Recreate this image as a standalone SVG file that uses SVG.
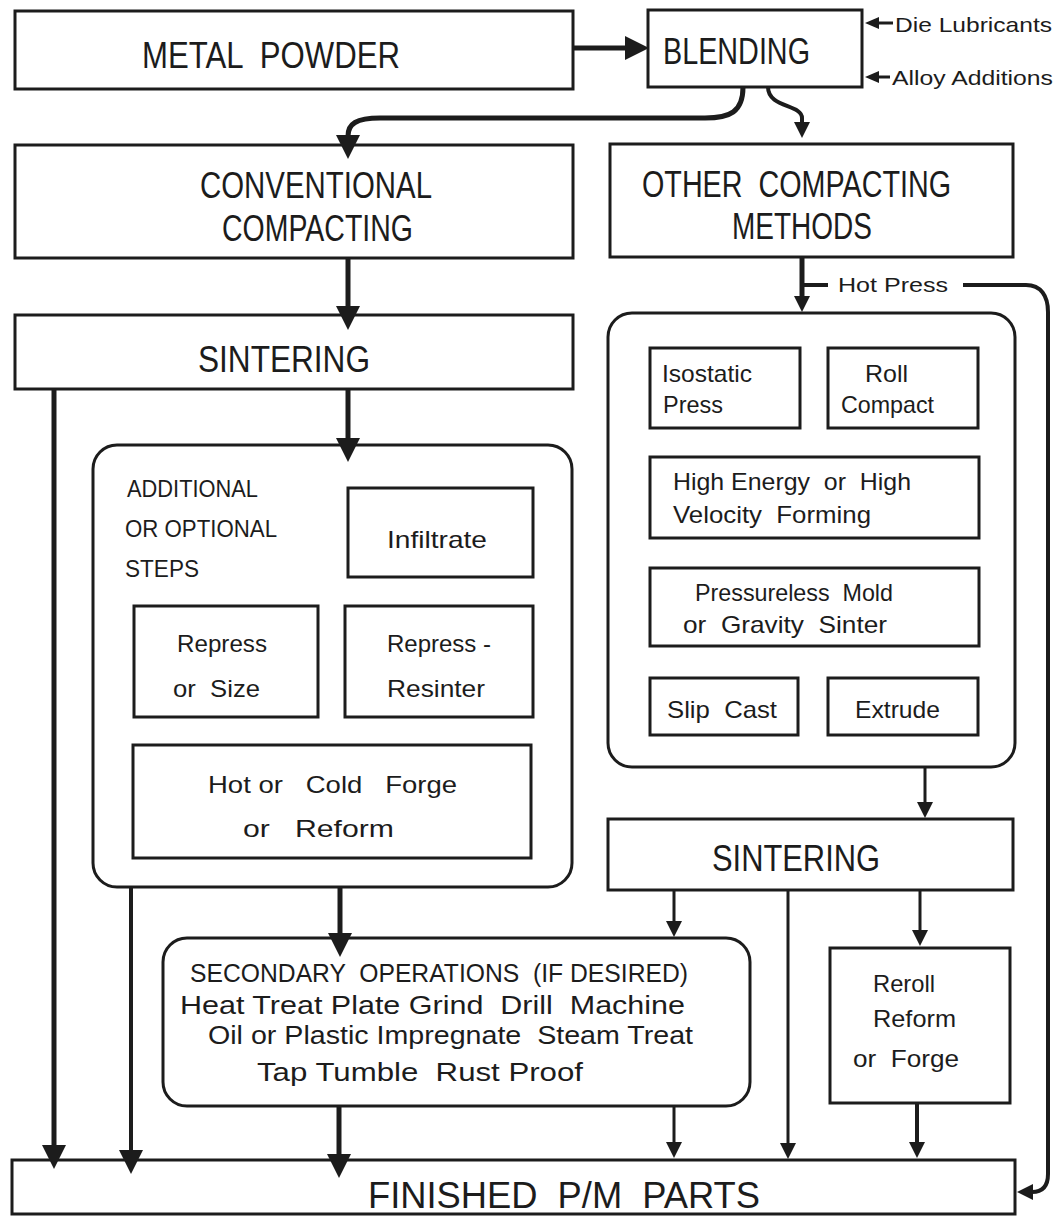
<svg xmlns="http://www.w3.org/2000/svg" width="1060" height="1216" viewBox="0 0 1060 1216">
<style>
.box{fill:none;stroke:#1c1c1c;stroke-width:3}
.t{font-family:"Liberation Sans",Arial,sans-serif;fill:#1c1c1c}
.L{font-size:36px}
.M{font-size:26px}
.S{font-size:24px}
.X{font-size:21px}
.c{fill:none;stroke:#1c1c1c;stroke-linecap:butt}
.w5{stroke-width:5}
.w4{stroke-width:4}
.w3{stroke-width:3}
</style>
<defs>
<marker id="big" markerUnits="userSpaceOnUse" markerWidth="30" markerHeight="30" refX="1" refY="12" orient="auto"><path d="M0,0 L24,12 L0,24 z" fill="#1c1c1c"/></marker>
<marker id="small" markerUnits="userSpaceOnUse" markerWidth="20" markerHeight="20" refX="1" refY="8" orient="auto"><path d="M0,0 L16,8 L0,16 z" fill="#1c1c1c"/></marker>
<marker id="tiny" markerUnits="userSpaceOnUse" markerWidth="16" markerHeight="16" refX="1" refY="6" orient="auto"><path d="M0,0 L14,6 L0,12 z" fill="#1c1c1c"/></marker>
</defs>
<rect width="1060" height="1216" fill="#ffffff"/>

<g id="metal-powder"><rect class="box" x="15" y="11" width="558" height="78"/><text class="t L" x="142" y="68" textLength="258" lengthAdjust="spacingAndGlyphs" xml:space="preserve">METAL  POWDER</text></g>
<g id="blending"><rect class="box" x="648" y="10" width="214" height="77"/><text class="t L" x="663" y="64" textLength="147" lengthAdjust="spacingAndGlyphs">BLENDING</text></g>
<g id="die-lubricants"><text class="t X" x="895" y="32" textLength="157" lengthAdjust="spacingAndGlyphs">Die Lubricants</text></g>
<g id="alloy-additions"><text class="t X" x="892" y="85" textLength="161" lengthAdjust="spacingAndGlyphs">Alloy Additions</text></g>
<g id="conventional-compacting"><rect class="box" x="15" y="145" width="558" height="113"/><text class="t L" x="200" y="198" textLength="232" lengthAdjust="spacingAndGlyphs">CONVENTIONAL</text><text class="t L" x="222" y="241" textLength="191" lengthAdjust="spacingAndGlyphs">COMPACTING</text></g>
<g id="other-compacting"><rect class="box" x="610" y="144" width="403" height="113"/><text class="t L" x="642" y="197" textLength="309" lengthAdjust="spacingAndGlyphs" xml:space="preserve">OTHER  COMPACTING</text><text class="t L" x="732" y="239" textLength="140" lengthAdjust="spacingAndGlyphs">METHODS</text></g>
<g id="sintering-1"><rect class="box" x="15" y="315" width="558" height="74"/><text class="t L" x="198" y="372" textLength="172" lengthAdjust="spacingAndGlyphs">SINTERING</text></g>

<g id="additional-steps"><rect class="box" x="93" y="445" width="479" height="442" rx="24"/>
<text class="t S" x="127" y="497" textLength="131" lengthAdjust="spacingAndGlyphs">ADDITIONAL</text>
<text class="t S" x="125" y="537" textLength="152" lengthAdjust="spacingAndGlyphs">OR OPTIONAL</text>
<text class="t S" x="125" y="577" textLength="74" lengthAdjust="spacingAndGlyphs">STEPS</text></g>
<g id="infiltrate"><rect class="box" x="348" y="488" width="185" height="89"/><text class="t S" x="387" y="548" textLength="100" lengthAdjust="spacingAndGlyphs">Infiltrate</text></g>
<g id="repress-size"><rect class="box" x="134" y="606" width="184" height="111"/><text class="t S" x="177" y="652" textLength="90" lengthAdjust="spacingAndGlyphs">Repress</text><text class="t S" x="173" y="697" textLength="87" lengthAdjust="spacingAndGlyphs" xml:space="preserve">or  Size</text></g>
<g id="repress-resinter"><rect class="box" x="345" y="606" width="188" height="111"/><text class="t S" x="387" y="652" textLength="104" lengthAdjust="spacingAndGlyphs">Repress -</text><text class="t S" x="387" y="697" textLength="98" lengthAdjust="spacingAndGlyphs">Resinter</text></g>
<g id="forge-reform"><rect class="box" x="133" y="745" width="398" height="113"/><text class="t S" x="208" y="793" textLength="249" lengthAdjust="spacingAndGlyphs" xml:space="preserve">Hot or   Cold   Forge</text><text class="t S" x="243" y="837" textLength="151" lengthAdjust="spacingAndGlyphs" xml:space="preserve">or   Reform</text></g>

<g id="other-methods-group"><rect class="box" x="608" y="313" width="407" height="454" rx="24"/></g>
<g id="isostatic-press"><rect class="box" x="650" y="348" width="150" height="80"/><text class="t S" x="662" y="382" textLength="90" lengthAdjust="spacingAndGlyphs">Isostatic</text><text class="t S" x="663" y="413" textLength="60" lengthAdjust="spacingAndGlyphs">Press</text></g>
<g id="roll-compact"><rect class="box" x="828" y="348" width="150" height="80"/><text class="t S" x="865" y="382" textLength="43" lengthAdjust="spacingAndGlyphs">Roll</text><text class="t S" x="841" y="413" textLength="93" lengthAdjust="spacingAndGlyphs">Compact</text></g>
<g id="high-energy"><rect class="box" x="650" y="457" width="329" height="81"/><text class="t S" x="673" y="490" textLength="238" lengthAdjust="spacingAndGlyphs" xml:space="preserve">High Energy  or  High</text><text class="t S" x="673" y="523" textLength="198" lengthAdjust="spacingAndGlyphs" xml:space="preserve">Velocity  Forming</text></g>
<g id="pressureless"><rect class="box" x="650" y="568" width="329" height="78"/><text class="t S" x="695" y="601" textLength="198" lengthAdjust="spacingAndGlyphs" xml:space="preserve">Pressureless  Mold</text><text class="t S" x="683" y="633" textLength="204" lengthAdjust="spacingAndGlyphs" xml:space="preserve">or  Gravity  Sinter</text></g>
<g id="slip-cast"><rect class="box" x="650" y="678" width="148" height="57"/><text class="t S" x="667" y="718" textLength="110" lengthAdjust="spacingAndGlyphs" xml:space="preserve">Slip  Cast</text></g>
<g id="extrude"><rect class="box" x="828" y="678" width="150" height="57"/><text class="t S" x="855" y="718" textLength="85" lengthAdjust="spacingAndGlyphs">Extrude</text></g>

<g id="sintering-2"><rect class="box" x="608" y="819" width="405" height="71"/><text class="t L" x="712" y="871" textLength="168" lengthAdjust="spacingAndGlyphs">SINTERING</text></g>
<g id="secondary-operations"><rect class="box" x="163" y="938" width="587" height="168" rx="24"/>
<text class="t M" x="190" y="982" textLength="498" lengthAdjust="spacingAndGlyphs" xml:space="preserve">SECONDARY  OPERATIONS  (IF DESIRED)</text>
<text class="t M" x="180" y="1014" textLength="505" lengthAdjust="spacingAndGlyphs" xml:space="preserve">Heat Treat Plate Grind  Drill  Machine</text>
<text class="t M" x="208" y="1044" textLength="485" lengthAdjust="spacingAndGlyphs" xml:space="preserve">Oil or Plastic Impregnate  Steam Treat</text>
<text class="t M" x="257" y="1081" textLength="326" lengthAdjust="spacingAndGlyphs" xml:space="preserve">Tap Tumble  Rust Proof</text></g>
<g id="reroll-reform-forge"><rect class="box" x="830" y="948" width="180" height="155"/><text class="t S" x="873" y="992" textLength="62" lengthAdjust="spacingAndGlyphs">Reroll</text><text class="t S" x="873" y="1027" textLength="83" lengthAdjust="spacingAndGlyphs">Reform</text><text class="t S" x="853" y="1067" textLength="106" lengthAdjust="spacingAndGlyphs" xml:space="preserve">or  Forge</text></g>
<g id="finished-parts"><rect class="box" x="12" y="1160" width="1003" height="54"/><text class="t L" x="368" y="1208" textLength="392" lengthAdjust="spacingAndGlyphs" xml:space="preserve">FINISHED  P/M  PARTS</text></g>
<g id="hot-press-label"><text class="t X" x="838" y="292" textLength="110" lengthAdjust="spacingAndGlyphs">Hot Press</text></g>

<g id="connectors">
<path class="c w5" d="M573,48 L626,48" marker-end="url(#big)"/>
<path class="c w3" d="M893,23 L878,23" marker-end="url(#tiny)"/>
<path class="c w3" d="M890,77 L878,77" marker-end="url(#tiny)"/>
<path class="c w5" d="M743,87 C743,112 730,118 705,118 L380,118 C356,118 348,124 348,136" marker-end="url(#big)"/>
<path class="c w4" d="M768,87 C768,108 802,104 802,118 L802,123" marker-end="url(#small)"/>
<path class="c w5" d="M348,258 L348,307" marker-end="url(#big)"/>
<path class="c w5" d="M348,389 L348,439" marker-end="url(#big)"/>
<path class="c w5" d="M54,389 L54,1146" marker-end="url(#big)"/>
<path class="c w4" d="M131,887 L131,1151" marker-end="url(#big)"/>
<path class="c w5" d="M340,887 L340,934" marker-end="url(#big)"/>
<path class="c w5" d="M339,1106 L339,1155" marker-end="url(#big)"/>
<path class="c w5" d="M802,257 L802,297" marker-end="url(#small)"/>
<path class="c w4" d="M802,285 L828,285"/>
<path class="c w4" d="M963,285 L1026,285 C1041,285 1048,296 1048,312 L1048,1174 C1048,1187 1042,1192 1032,1192" marker-end="url(#small)"/>
<path class="c w3" d="M925,767 L925,803" marker-end="url(#small)"/>
<path class="c w3" d="M674,890 L674,922" marker-end="url(#small)"/>
<path class="c w3" d="M788,890 L788,1144" marker-end="url(#small)"/>
<path class="c w3" d="M920,890 L920,931" marker-end="url(#small)"/>
<path class="c w3" d="M674,1106 L674,1143" marker-end="url(#small)"/>
<path class="c w4" d="M917,1103 L917,1143" marker-end="url(#small)"/>
</g>
</svg>
